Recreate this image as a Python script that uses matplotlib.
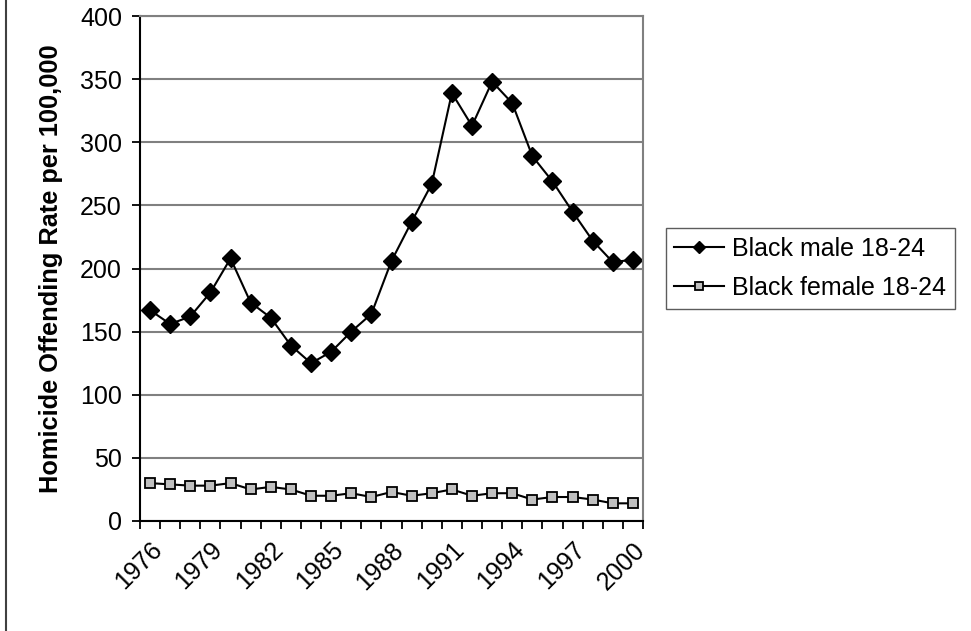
import numpy as np
import matplotlib
matplotlib.use('Agg')
import matplotlib.pyplot as plt
from matplotlib.lines import Line2D

years = list(range(1976, 2001))
male = [167, 156, 162, 181, 208, 173, 161, 139, 125, 134, 150, 164, 206,
        237, 267, 339, 313, 348, 331, 289, 269, 245, 222, 205, 207]
female = [30, 29, 28, 28, 30, 25, 27, 25, 20, 20, 22, 19, 23,
          20, 22, 25, 20, 22, 22, 17, 19, 19, 17, 14, 14]

plt.rcParams['font.family'] = ['Liberation Sans', 'DejaVu Sans']

fig = plt.figure(figsize=(9.71, 6.31), dpi=100)
ax = fig.add_axes([140/971, 1-521/631, (643-140)/971, (521-16)/631])

x = np.arange(len(years))
ax.plot(x, male, color='black', lw=1.5, marker='D', ms=9,
        mfc='black', mec='black', label='Black male 18-24')
ax.plot(x, female, color='black', lw=1.5, marker='s', ms=7.5,
        mfc='#c0c0c0', mec='black', mew=1.3, label='Black female 18-24')

ax.set_xlim(-0.5, len(years) - 0.5)
ax.set_ylim(0, 400)
ax.set_yticks(range(0, 401, 50))
ax.yaxis.grid(True, color='#808080', lw=1.5)
ax.set_axisbelow(True)

ax.set_xticks(x[::3])
ax.set_xticklabels([str(y) for y in years[::3]], rotation=45, ha='right',
                   rotation_mode='anchor', fontsize=18)
ax.set_xticks(np.arange(-0.5, len(years), 1), minor=True)
ax.tick_params(axis='x', which='major', length=0, pad=12)
ax.tick_params(axis='x', which='minor', length=6, width=1.3, color='black')
ax.tick_params(axis='y', length=6, width=1.3, labelsize=18, pad=7)

for s in ['top', 'right']:
    ax.spines[s].set_color('#808080')
    ax.spines[s].set_linewidth(1.5)
for s in ['left', 'bottom']:
    ax.spines[s].set_color('black')
    ax.spines[s].set_linewidth(1.5)

ax.set_ylabel('Homicide Offending Rate per 100,000', fontsize=18.3,
              fontweight='bold', labelpad=12)

leg = ax.legend(loc='center left', bbox_to_anchor=(1.045, 0.5), fontsize=18,
                frameon=True, fancybox=False, edgecolor='#333333',
                handlelength=2.0, handletextpad=0.3, borderpad=0.35,
                labelspacing=0.6, markerscale=0.7, borderaxespad=0)
leg.get_frame().set_linewidth(1.0)

fig.add_artist(Line2D([6/971, 6/971], [0, 1], color='#404040', lw=1.5))

fig.savefig('out.png', dpi=100)
